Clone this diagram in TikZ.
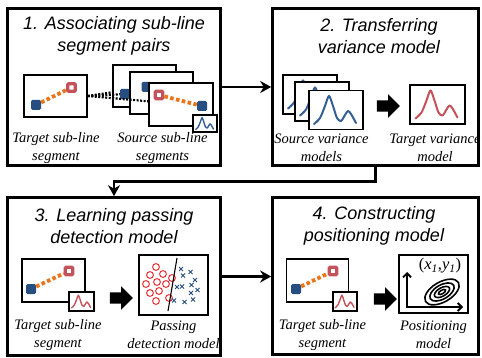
\documentclass[tikz,border=0pt]{standalone}
\usepackage{fontspec}
\setmainfont{Liberation Serif}
\setsansfont{Liberation Sans}
\usepackage{tikz}
\usetikzlibrary{shapes,arrows.meta,positioning,calc}

\definecolor{segblue}{RGB}{38,78,128}
\definecolor{curveblue}{RGB}{52,94,148}
\definecolor{segred}{RGB}{196,82,90}
\definecolor{segorange}{RGB}{232,118,28}
\definecolor{dotred}{RGB}{232,48,52}

\tikzset{
  varcurve/.pic={\draw[line cap=round, line join=round] plot[smooth, tension=0.5] coordinates {(-22,14) (-16,8) (-11,-4) (-7,-14) (-3,-4) (1,8) (5,11) (9,5) (12,1) (15,4) (20,13)};}
}

\begin{document}
\begin{tikzpicture}[x=1pt, y=-1pt,
    stage/.style={draw, line width=2.6pt, inner sep=0pt},
    panel/.style={draw, fill=white, line width=1.6pt, inner sep=0pt},
    title/.style={font=\sffamily\itshape\fontsize{18}{21.5}\selectfont, align=center},
    caption/.style={font=\itshape\fontsize{14.5}{18}\selectfont, align=center},
    bluesq/.style={fill=segblue, rounded corners=1.5pt, minimum size=10pt, inner sep=0pt},
    redsq/.style={draw=segred, fill=white, line width=3.2pt, rounded corners=1pt, minimum size=7.5pt, inner sep=0pt},
    link/.style={segorange, line width=3.8pt, dash pattern=on 3.6pt off 2.4pt},
    pairing/.style={line width=2.2pt, dash pattern=on 2pt off 1.5pt},
    flow/.style={line width=2.8pt, -{Stealth[length=11pt, width=12pt, inset=3.5pt]}},
    blockarrow/.style={single arrow, fill=black, inner xsep=0pt, inner ysep=5.5pt, single arrow head extend=6pt, minimum height=23pt},
    ring/.style={line width=1.6pt}]

    \useasboundingbox (0,0) rectangle (482,358);

    % Stages
    \node[stage, minimum width=213pt, minimum height=157pt] (stage1) at (114,87) {};
    \node[stage, minimum width=206pt, minimum height=157pt] (stage2) at (375.5,87) {};
    \node[stage, minimum width=213pt, minimum height=158pt] (stage3) at (114,276.5) {};
    \node[stage, minimum width=206pt, minimum height=157pt] (stage4) at (375.5,276) {};

    \draw[flow] (stage1) -- (stage2);
    \draw[flow] (stage2.south) -- ++(0,15) -| (stage3.north);
    \draw[flow] (stage3.east) -- (stage3.east -| stage4.west);

    % Stage 1: associating sub-line segment pairs
    \node[title] (title1) at (114,36) {1. Associating sub-line\\segment pairs};
    \node[panel, minimum width=63pt, minimum height=42pt] (tseg1) at (55.5,96) {};
    \node[bluesq] (tblue1) at (36,105) {};
    \node[redsq] (tred1) at (71.5,87.5) {};
    \draw[link] (tblue1) -- (tred1);

    \coordinate (pB) at (146.5,87);
    \coordinate (pC) at (202,106);
    \draw[pairing] (tseg1.east) -- (pB);
    \node[panel, minimum width=63pt, minimum height=42pt] (srcA) at (144.5,86) {};
    \node[bluesq] (sblueA) at (125,94) {};
    \coordinate (sredA) at (165,80);
    \draw[link] (sblueA) -- (sredA);
    \draw[pairing] (tseg1.east) -- (sblueA);
    \node[panel, minimum width=63pt, minimum height=42pt] (srcB) at (161.5,93) {};
    \node[bluesq] (sblueB) at (pB) {};
    \draw[pairing] (tseg1.east) -- (pC);
    \node[panel, minimum width=64pt, minimum height=43pt] (srcC) at (181,104.5) {};
    \node[bluesq] (sblueC) at (pC) {};
    \node[redsq] (sredC) at (159,95) {};
    \draw[link] (sredC) -- (sblueC);
    \node[panel, minimum width=24pt, minimum height=17pt] (sinset) at (205,123.5) {};
    \pic[curveblue, line width=1.4pt, scale=0.42] at (sinset) {varcurve};

    \node[caption] (cap1a) at (56,148) {Target sub-line\\segment};
    \node[caption] (cap1b) at (162.5,148) {Source sub-line\\segments};

    % Stage 2: transferring variance model
    \node[title] (title2) at (379,36) {2. Transferring\\variance model};
    \foreach \n/\x/\y in {1/310/94.5, 2/322/101.5, 3/336/110} {
      \node[panel, minimum width=54pt, minimum height=39pt] (vsrc\n) at (\x,\y) {};
      \pic[curveblue, line width=2pt] at (vsrc\n) {varcurve};
    }
    \node[blockarrow] (push2) at (385.5,106) {};
    \node[panel, minimum width=55pt, minimum height=39pt] (vtgt) at (437.5,104.5) {};
    \pic[segred, line width=2pt] at (vtgt) {varcurve};

    \node[caption] (cap2a) at (321.5,148) {Source variance\\models};
    \node[caption] (cap2b) at (435,148) {Target variance\\model};

    % Stage 3: learning passing detection model
    \node[title] (title3) at (114,226) {3. Learning passing\\detection model};
    \node[panel, minimum width=63pt, minimum height=43pt] (tseg3) at (53.5,280.5) {};
    \node[bluesq] (tblue3) at (31,289) {};
    \node[redsq] (tred3) at (69,271) {};
    \draw[link] (tblue3) -- (tred3);
    \node[panel, minimum width=25pt, minimum height=19pt] (tinset3) at (81.5,301.5) {};
    \pic[segred, line width=1.4pt, scale=0.45] at (tinset3) {varcurve};
    \node[blockarrow] (push3) at (118.5,298) {};

    \node[panel, line width=2.4pt, minimum width=69pt, minimum height=60pt] (detect) at (173.5,285) {};
    \foreach \x/\y in {156/267, 150/275, 163/274, 172/278, 146/284, 157/282, 166/284, 150/293, 159/291, 169/298, 156/301}
      \draw[dotred, line width=1pt] (\x,\y) circle[radius=3.4pt];
    \foreach \x/\y in {181/269, 190.5/272, 183/275.5, 195/280, 177/287, 182/286.5, 191.5/285, 197.5/290, 191/293, 174/300.5, 184.5/302, 193/299.5}
      \draw[segblue, line width=1pt] (\x-2,\y-2) -- (\x+2,\y+2) (\x-2,\y+2) -- (\x+2,\y-2);
    \coordinate (sepA) at (177,258);
    \coordinate (sepB) at (168,311);
    \draw[line width=1.1pt] (sepA) -- (sepB);

    \node[caption] (cap3a) at (58,335) {Target sub-line\\segment};
    \node[caption] (cap3b) at (173.5,335) {Passing\\detection model};

    % Stage 4: constructing positioning model
    \node[title] (title4) at (374,226) {4. Constructing\\positioning model};
    \node[panel, minimum width=62pt, minimum height=43pt] (tseg4) at (317.5,280.5) {};
    \node[bluesq] (tblue4) at (296,289) {};
    \node[redsq] (tred4) at (333,271) {};
    \draw[link] (tblue4) -- (tred4);
    \node[panel, minimum width=24pt, minimum height=19pt] (tinset4) at (345,301.5) {};
    \pic[segred, line width=1.4pt, scale=0.45] at (tinset4) {varcurve};
    \node[blockarrow] (push4) at (382.5,299) {};

    \node[panel, line width=2.6pt, minimum width=69pt, minimum height=58pt] (posn) at (433.5,284) {};
    \coordinate (yend) at (407,272);
    \coordinate (xend) at (463,307);
    \draw[line width=1.8pt, {Straight Barb[length=4pt, width=8pt]}-{Straight Barb[length=4pt, width=8pt]}] (yend) |- (xend);
    \node[font=\fontsize{16.5}{18}\selectfont] (peak) at (440,266) {(\textit{x}\textsubscript{\textit{1}},\textit{y}\textsubscript{\textit{1}})};
    \foreach \r/\s in {19pt/10pt, 13.5pt/7pt, 8.5pt/4.2pt, 4pt/1.8pt}
      \draw[ring, rotate around={30:(442,292)}] (442,292) ellipse[x radius=\r, y radius=\s];

    \node[caption] (cap4a) at (322.5,335) {Target sub-line\\segment};
    \node[caption] (cap4b) at (433.5,335) {Positioning\\model};
\end{tikzpicture}
\end{document}
